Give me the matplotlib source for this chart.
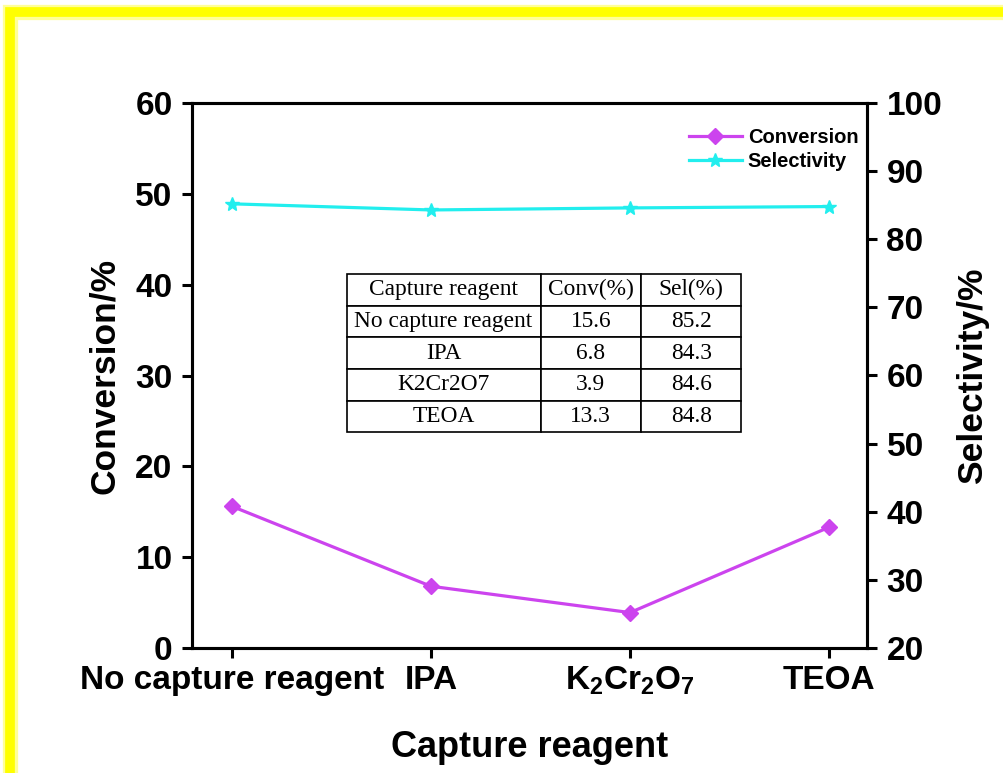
import matplotlib
matplotlib.use('Agg')
import matplotlib.pyplot as plt
from matplotlib.patches import Rectangle

# data
categories = ['No capture reagent', 'IPA', 'K$_2$Cr$_2$O$_7$', 'TEOA']
table_names = ['No capture reagent', 'IPA', 'K2Cr2O7', 'TEOA']
conversion = [15.6, 6.8, 3.9, 13.3]
selectivity = [85.2, 84.3, 84.6, 84.8]
conv_ticks = [0, 10, 20, 30, 40, 50, 60]
sel_ticks = [20, 30, 40, 50, 60, 70, 80, 90, 100]

plt.rcParams['font.family'] = ['Liberation Sans', 'DejaVu Sans']
plt.rcParams['mathtext.fontset'] = 'custom'
plt.rcParams['mathtext.rm'] = 'Liberation Sans:bold'
plt.rcParams['mathtext.it'] = 'Liberation Sans:bold'
plt.rcParams['mathtext.bf'] = 'Liberation Sans:bold'

fig = plt.figure(figsize=(10.04, 7.73), dpi=100)
ax = fig.add_axes([192 / 1004, 1 - 648 / 773, 675 / 1004, 545 / 773])
ax2 = ax.twinx()

x = list(range(len(categories)))
l1, = ax.plot(x, conversion, color='#CC44EE', lw=2.3, marker='D', ms=8, label='Conversion')
l2, = ax2.plot(x, selectivity, color='#22EEEE', lw=2.3, marker='*', ms=10, label='Selectivity')

ax.set_xlim(-0.2, 3.19)
ax.set_ylim(0, 60)
ax2.set_ylim(20, 100)
ax.set_yticks(conv_ticks)
ax2.set_yticks(sel_ticks)
ax.set_xticks(x)
ax.set_xticklabels(categories)

for a in (ax, ax2):
    for s in a.spines.values():
        s.set_linewidth(2.2)
    a.tick_params(direction='out', width=2.2, length=7, labelsize=24, pad=7)
    for lab in a.get_yticklabels() + a.get_xticklabels():
        lab.set_fontweight('bold')
ax.tick_params(axis='x', pad=5)

ax.set_xlabel('Capture reagent', fontsize=26, fontweight='bold', labelpad=24)
ax.set_ylabel('Conversion/%', fontsize=25.5, fontweight='bold', labelpad=10)
ax2.set_ylabel('Selectivity/%', fontsize=25.5, fontweight='bold', labelpad=10, rotation=90)

ax.legend(handles=[l1, l2], loc='upper right', frameon=False,
          prop={'weight': 'bold', 'size': 14.5}, handlelength=2.6,
          handletextpad=0.3, labelspacing=0.25, borderaxespad=0.2,
          bbox_to_anchor=(1.005, 0.976))

# inset table
cell_text = [['Capture reagent', 'Conv(%)', 'Sel(%)']]
for n, c, s in zip(table_names, conversion, selectivity):
    cell_text.append([n, f'{c:.1f}', f'{s:.1f}'])
tb = ax.table(cellText=cell_text, cellLoc='center', colWidths=[0.491, 0.254, 0.254],
              bbox=[0.229, 0.396, 0.585, 0.290], zorder=5)
tb.auto_set_font_size(False)
for (r, c), cell in tb.get_celld().items():
    cell.set_linewidth(1.2)
    cell.get_text().set_fontfamily('Liberation Serif')
    cell.get_text().set_fontsize(16.8)

# yellow frame around the figure (cut at right and bottom)
fig.patches.append(Rectangle((10 / 1004, -0.2), 1.2, 1 - 12 / 773 + 0.2,
                             transform=fig.transFigure, fill=False,
                             edgecolor='#FFFF99', lw=11, zorder=0))
fig.patches.append(Rectangle((10 / 1004, -0.2), 1.2, 1 - 12 / 773 + 0.2,
                             transform=fig.transFigure, fill=False,
                             edgecolor='#FFFF00', lw=7, zorder=1))

fig.savefig('out.png', dpi=100)
